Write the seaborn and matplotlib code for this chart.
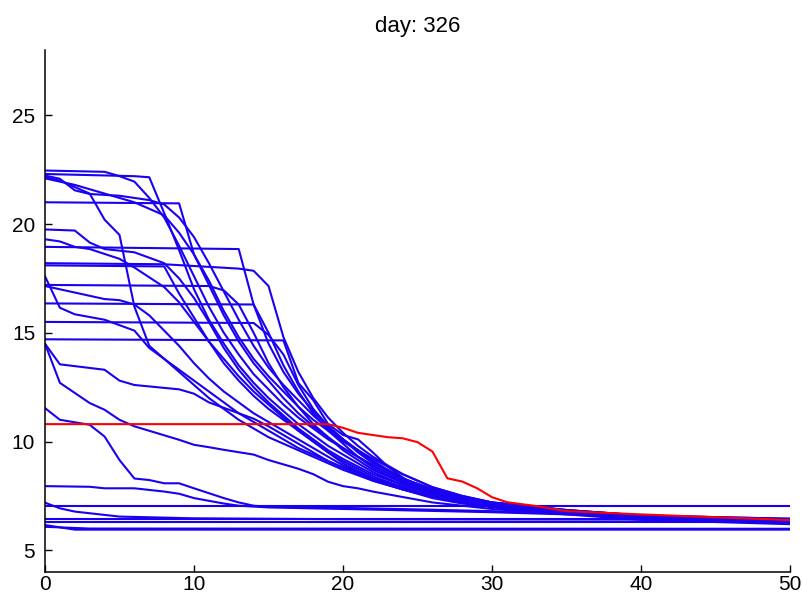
import matplotlib
matplotlib.use("Agg")
import matplotlib.pyplot as plt
import pandas as pd
import seaborn as sns

day = 326

# (iteration, value) vertices of every blue trace
p01 = [(0, 22.46), (4, 22.4), (5, 22.2), (6, 21.95), (7, 21.2), (8, 20.3), (9, 19.0), (10, 17.6), (11, 16.2),
       (12, 15.0), (13, 14.0), (14, 13.1), (15, 12.4), (16, 11.7), (17, 11.1), (18, 10.6), (19, 10.1), (20, 9.7),
       (22, 8.9), (24, 8.2), (26, 7.7), (28, 7.35), (30, 7.1), (35, 6.8), (40, 6.55), (50, 6.35)]
p02 = [(0, 22.3), (6, 22.2), (7, 22.15), (8, 20.5), (9, 18.8), (10, 17.0), (11, 15.6), (12, 14.5), (13, 13.5),
       (14, 12.7), (15, 12.0), (16, 11.4), (17, 10.8), (18, 10.3), (19, 9.8), (20, 9.4), (22, 8.6), (24, 8.0),
       (26, 7.6), (28, 7.3), (30, 7.05), (35, 6.75), (40, 6.5), (50, 6.3)]
p03 = [(0, 22.23), (1, 22.08), (2, 21.55), (3, 21.38), (5, 21.3), (7, 21.1), (8, 20.9), (9, 20.3), (10, 19.4),
       (11, 18.2), (12, 16.9), (13, 15.6), (14, 14.4), (15, 13.4), (16, 12.6), (17, 11.9), (18, 11.2), (19, 10.6),
       (20, 10.1), (22, 9.1), (24, 8.3), (26, 7.8), (28, 7.4), (30, 7.15), (35, 6.8), (40, 6.55), (50, 6.35)]
p04 = [(0, 22.15), (1, 22.0), (3, 21.4), (4, 20.2), (5, 19.5), (6, 16.2), (7, 14.4), (8, 13.8), (9, 13.3),
       (10, 12.8), (11, 12.3), (12, 11.8), (13, 11.3), (14, 10.9), (15, 10.5), (16, 10.1), (17, 9.7), (18, 9.4),
       (19, 9.1), (20, 8.8), (22, 8.3), (24, 7.9), (26, 7.5), (28, 7.25), (30, 7.0), (35, 6.7), (40, 6.5), (50, 6.3)]
p05 = [(0, 22.1), (2, 21.8), (4, 21.4), (6, 21.0), (8, 20.4), (9, 19.6), (10, 18.6), (11, 17.4), (12, 16.0),
       (13, 14.8), (14, 13.8), (15, 13.0), (16, 12.3), (17, 11.6), (18, 11.0), (19, 10.5), (20, 10.0), (22, 9.2),
       (24, 8.5), (26, 7.9), (28, 7.5), (30, 7.2), (35, 6.85), (40, 6.6), (50, 6.4)]
p06 = [(0, 21.0), (9, 20.95), (10, 18.6), (11, 17.2), (12, 15.8), (13, 14.6), (14, 13.6), (15, 12.8), (16, 12.0),
       (17, 11.3), (18, 10.7), (19, 10.2), (20, 9.7), (22, 8.9), (24, 8.2), (26, 7.7), (28, 7.35), (30, 7.1),
       (35, 6.8), (40, 6.55), (50, 6.35)]
p07 = [(0, 19.75), (2, 19.7), (3, 19.15), (4, 18.85), (6, 18.7), (8, 18.2), (9, 17.5), (10, 16.6), (11, 15.5),
       (12, 14.3), (13, 13.3), (14, 12.5), (15, 11.8), (16, 11.2), (17, 10.6), (18, 10.1), (19, 9.6), (20, 9.2),
       (22, 8.5), (24, 8.0), (26, 7.6), (28, 7.3), (30, 7.05), (35, 6.75), (40, 6.5), (50, 6.3)]
p08 = [(0, 19.3), (1, 19.2), (2, 18.95), (3, 18.85), (5, 18.4), (6, 18.0), (8, 17.1), (9, 16.4), (10, 15.5),
       (11, 14.6), (12, 13.8), (13, 13.0), (14, 12.3), (15, 11.7), (16, 11.1), (17, 10.5), (18, 10.0), (19, 9.5),
       (20, 9.1), (22, 8.4), (24, 7.9), (26, 7.5), (28, 7.2), (30, 7.0), (35, 6.7), (40, 6.5), (50, 6.3)]
p09 = [(0, 18.95), (13, 18.85), (14, 16.3), (15, 14.5), (16, 13.2), (17, 12.2), (18, 11.4), (19, 10.7),
       (20, 10.1), (21, 9.6), (22, 9.1), (24, 8.3), (26, 7.8), (28, 7.4), (30, 7.15), (35, 6.8), (40, 6.55), (50, 6.4)]
p10 = [(0, 18.2), (8, 18.15), (13, 17.95), (14, 17.85), (15, 17.15), (16, 14.8), (17, 13.2), (18, 12.0),
       (19, 11.1), (20, 10.4), (21, 9.8), (22, 9.3), (24, 8.5), (26, 7.9), (28, 7.5), (30, 7.2), (35, 6.85),
       (40, 6.6), (50, 6.4)]
p11 = [(0, 18.1), (8, 18.05), (9, 16.8), (10, 15.7), (11, 14.6), (12, 13.6), (13, 12.8), (14, 12.1), (15, 11.5),
       (16, 11.0), (17, 10.5), (18, 10.0), (19, 9.5), (20, 9.0), (22, 8.3), (24, 7.8), (26, 7.45), (28, 7.2),
       (30, 7.0), (35, 6.7), (40, 6.5), (50, 6.3)]
p12 = [(0, 17.15), (1, 17.0), (2, 16.85), (4, 16.55), (5, 16.5), (6, 16.3), (7, 15.8), (8, 15.1), (9, 14.4),
       (10, 13.6), (11, 12.9), (12, 12.3), (13, 11.8), (14, 11.3), (15, 10.9), (16, 10.5), (17, 10.1), (18, 9.7),
       (19, 9.3), (20, 8.9), (22, 8.3), (24, 7.8), (26, 7.4), (28, 7.15), (30, 7.0), (35, 6.7), (40, 6.5), (50, 6.3)]
p13 = [(0, 17.6), (1, 16.15), (2, 15.85), (4, 15.6), (6, 15.1), (7, 14.3), (8, 13.8), (9, 13.2), (10, 12.6),
       (11, 12.0), (12, 11.5), (13, 11.0), (14, 10.6), (15, 10.2), (16, 9.9), (17, 9.6), (18, 9.3), (19, 9.0),
       (20, 8.7), (22, 8.2), (24, 7.8), (26, 7.5), (28, 7.2), (30, 7.0), (35, 6.7), (40, 6.45), (50, 6.25)]
p14 = [(0, 17.2), (11, 17.15), (12, 16.95), (13, 16.3), (14, 15.0), (15, 13.6), (16, 12.5), (17, 11.6),
       (18, 10.8), (19, 10.2), (20, 9.6), (22, 8.7), (24, 8.1), (26, 7.65), (28, 7.3), (30, 7.05), (35, 6.75),
       (40, 6.55), (50, 6.35)]
p15 = [(0, 16.35), (14, 16.3), (15, 15.0), (16, 13.5), (17, 12.3), (18, 11.3), (19, 10.5), (20, 9.9), (21, 9.3),
       (22, 8.8), (24, 8.1), (26, 7.65), (28, 7.3), (30, 7.1), (35, 6.8), (40, 6.55), (50, 6.4)]
p16 = [(0, 15.5), (14, 15.45), (15, 14.9), (16, 14.0), (17, 12.6), (18, 11.5), (19, 10.7), (20, 10.1), (21, 9.5),
       (22, 9.0), (24, 8.3), (26, 7.8), (28, 7.4), (30, 7.15), (35, 6.8), (40, 6.6), (50, 6.4)]
p17 = [(0, 14.7), (16, 14.65), (17, 12.7), (18, 11.9), (19, 10.8), (20, 10.3), (21, 10.1), (22, 9.5), (23, 8.85),
       (24, 8.35), (25, 7.95), (26, 7.75), (28, 7.45), (30, 7.2), (35, 6.85), (40, 6.6), (50, 6.45)]
p18 = [(0, 14.5), (1, 13.55), (4, 13.3), (5, 12.8), (6, 12.6), (9, 12.4), (10, 12.2), (11, 11.8), (12, 11.55),
       (13, 11.3), (14, 11.05), (15, 10.7), (16, 10.3), (17, 9.9), (18, 9.5), (19, 9.1), (20, 8.8), (22, 8.2),
       (24, 7.8), (26, 7.45), (28, 7.2), (30, 7.0), (35, 6.7), (40, 6.45), (50, 6.25)]
p19 = [(0, 14.5), (1, 12.7), (3, 11.77), (4, 11.46), (5, 11.0), (6, 10.7), (9, 10.08), (10, 9.85), (11, 9.74),
       (12, 9.62), (14, 9.4), (15, 9.15), (16, 8.95), (17, 8.75), (18, 8.5), (19, 8.15), (20, 7.95), (21, 7.85),
       (22, 7.7), (24, 7.45), (26, 7.2), (28, 7.05), (30, 6.9), (35, 6.65), (40, 6.4), (50, 6.2)]
p20 = [(0, 11.54), (1, 11.0), (3, 10.77), (4, 10.23), (5, 9.15), (6, 8.3), (7, 8.23), (8, 8.08), (9, 8.08),
       (10, 7.85), (12, 7.4), (13, 7.2), (14, 7.05), (15, 7.0), (20, 6.95), (25, 6.88), (30, 6.8), (40, 6.6),
       (50, 6.45)]
p21 = [(0, 7.95), (3, 7.92), (4, 7.85), (6, 7.85), (8, 7.7), (9, 7.6), (10, 7.4), (12, 7.15), (13, 7.05),
       (15, 6.97), (20, 6.9), (30, 6.75), (40, 6.55), (50, 6.4)]
p22 = [(0, 7.03), (50, 7.03)]
p23 = [(0, 7.19), (1, 6.93), (2, 6.78), (5, 6.55), (10, 6.47), (20, 6.43), (50, 6.4)]
p24 = [(0, 6.42), (50, 6.42)]
p25 = [(0, 6.3), (50, 6.3)]
p26 = [(0, 6.16), (2, 5.95), (50, 5.95)]
p27 = [(0, 6.08), (3, 6.0), (50, 5.99)]

blue_lines = [p01, p02, p03, p04, p05, p06, p07, p08, p09, p10, p11, p12, p13, p14,
              p15, p16, p17, p18, p19, p20, p21, p22, p23, p24, p25, p26, p27]

# the red trace
red_x = [0, 19, 20, 21, 22, 23, 24, 25, 26, 27, 28, 29, 30, 31, 33, 35, 40, 50]
red_y = [10.8, 10.8, 10.63, 10.4, 10.3, 10.2, 10.15, 9.97, 9.54, 8.31, 8.16, 7.85, 7.44, 7.21, 7.03, 6.8, 6.65, 6.39]

rows = [(i, x, y) for i, line in enumerate(blue_lines) for x, y in line]
df = pd.DataFrame(rows, columns=["trace", "iteration", "value"])
red = pd.DataFrame({"iteration": red_x, "value": red_y})

sns.set_style("ticks")
plt.rcParams["font.family"] = ["Liberation Sans", "DejaVu Sans"]

fig = plt.figure(figsize=(8.03, 5.99), dpi=100)
ax = fig.add_axes([0.056, 0.045, 0.928, 0.8715])

sns.lineplot(data=df, x="iteration", y="value", units="trace", estimator=None,
             color="#1a00f0", lw=1.5, ax=ax, sort=False)
sns.lineplot(data=red, x="iteration", y="value", color="#ff0000", lw=1.5, ax=ax, sort=False)

ax.set_xlim(0, 50)
ax.set_ylim(4, 28)
ax.set_xticks([0, 10, 20, 30, 40, 50])
ax.set_yticks([5, 10, 15, 20, 25])
ax.set_xlabel("")
ax.set_ylabel("")
ax.set_title(f"day: {day}", fontsize=16, pad=13, color="black")
ax.tick_params(direction="in", length=5, width=1, labelsize=15, colors="black")
ax.tick_params(axis="x", pad=2)
ax.tick_params(axis="y", pad=7)
sns.despine(ax=ax)
for s in ["left", "bottom"]:
    ax.spines[s].set_color("black")
    ax.spines[s].set_linewidth(1.1)

fig.savefig("out.png", dpi=100)
